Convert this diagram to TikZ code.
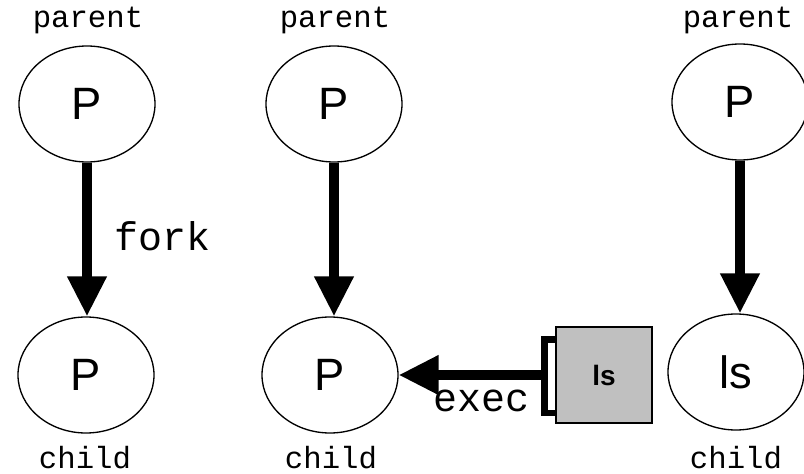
\documentclass[tikz,border=0pt]{standalone}
\usepackage{fontspec}
\setmainfont{Liberation Sans}
\newfontfamily\monofont{Liberation Mono}
\usetikzlibrary{shapes.geometric,arrows.meta}

\tikzset{
  proc/.style={draw,line width=1pt,ellipse,minimum width=102pt,minimum height=87pt,inner sep=0pt,font=\fontsize{34}{34}\selectfont},
  tag/.style={font=\monofont\fontsize{23}{23}\selectfont},
  call/.style={font=\monofont\fontsize{30}{30}\selectfont},
  bigarrow/.style={line width=7pt,-{Triangle[length=30pt,width=28pt]}}
}

\begin{document}
\begin{tikzpicture}[x=0.75pt,y=0.75pt,yscale=-1,xscale=1]
\useasboundingbox (0,0) rectangle (804,474);

% parent processes
\node[proc] (p1) at (87,104) {P};
\node[proc] (p2) at (334,104) {P};
\node[proc] (p3) at (740,102) {P};
% child processes
\node[proc] (c1) at (86,375) {P};
\node[proc] (c2) at (330,375) {P};
\node[proc] (c3) at (736,372) {ls};

% labels
\node[tag] (par1) at (88,20) {parent};
\node[tag] (par2) at (335,20) {parent};
\node[tag] (par3) at (738,20) {parent};
\node[tag] (chi1) at (85,458) {child};
\node[tag] (chi2) at (331,458) {child};
\node[tag] (chi3) at (736,458) {child};

% program image
\node[draw,line width=1pt,fill={rgb,255:red,192;green,192;blue,192},minimum width=72pt,minimum height=72pt,font=\bfseries\fontsize{21}{21}\selectfont] (ls) at (604,375) {ls};
\draw[line width=5pt] ([yshift=10pt]ls.north west) -- ++(-8pt,0) coordinate (hook) |- ([yshift=-8pt]ls.south west);
\coordinate (hookmid) at (hook |- c2);

% fork / exec
\draw[bigarrow] (p1.south) -- (p1.south |- c1.north);
\draw[bigarrow] (p2.south) -- (p2.south |- c2.north);
\draw[bigarrow] (p3.south) -- (p3.south |- c3.north);
\draw[bigarrow] (hookmid) -- (c2.east);

\node[call] (fork) at (163,236) {fork};
\node[call] (exec) at (482,401) {exec};

\end{tikzpicture}
\end{document}
